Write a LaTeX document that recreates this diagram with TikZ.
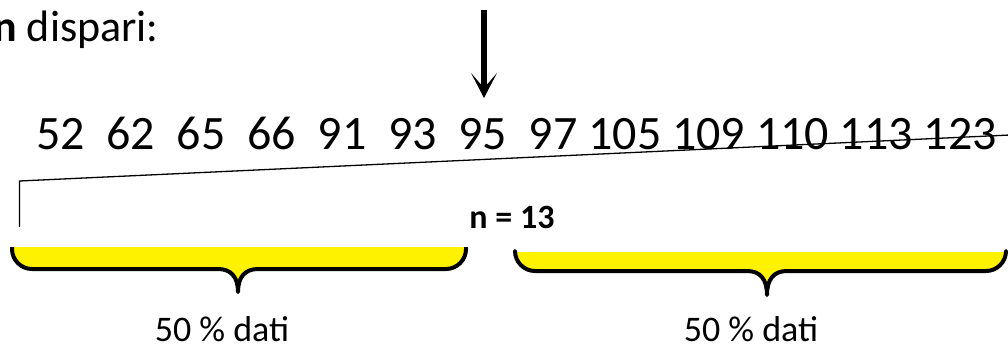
\documentclass[tikz,border=0pt]{standalone}
\usepackage{fontspec}
\setmainfont{Carlito}
\usetikzlibrary{arrows.meta}
\tikzset{
  numfont/.style={font=\fontsize{48}{56}\selectfont, inner sep=0pt},
  headfont/.style={font=\fontsize{44}{52}\selectfont, inner sep=0pt},
  nfont/.style={font=\fontsize{34}{40}\selectfont\bfseries, inner sep=0pt},
  pctfont/.style={font=\fontsize{36}{42}\selectfont, inner sep=0pt},
  bracefill/.style={fill=yellow, draw=none},
  braceline/.style={draw=black, line width=4pt, line join=round},
  thinline/.style={draw=black, line width=1.3pt},
  bigarrow/.style={draw=black, line width=5.5pt, -{Stealth[length=25pt,width=26pt,inset=15pt]}}
}
% #1 = x left, #2 = x right, #3 = top, #4 = line y, #5 = x middle, #6 = tip y
\newcommand\ybrace[6]{%
  \path[bracefill] (#1,#3) -- (#1,#4-20) .. controls (#1,#4-9) and (#1+9,#4) .. (#1+20,#4)
    -- (#5-20,#4) .. controls (#5-7,#4) and (#5,#4+8) .. (#5,#6)
    .. controls (#5,#4+8) and (#5+7,#4) .. (#5+20,#4)
    -- (#2-20,#4) .. controls (#2-9,#4) and (#2,#4-9) .. (#2,#4-20) -- (#2,#3) -- cycle;
  \path[braceline] (#1,#3) -- (#1,#4-20) .. controls (#1,#4-9) and (#1+9,#4) .. (#1+20,#4)
    -- (#5-20,#4) .. controls (#5-7,#4) and (#5,#4+8) .. (#5,#6)
    .. controls (#5,#4+8) and (#5+7,#4) .. (#5+20,#4)
    -- (#2-20,#4) .. controls (#2-9,#4) and (#2,#4-9) .. (#2,#4-20) -- (#2,#3);
}
\begin{document}
\begin{tikzpicture}[x=1pt,y=-1pt]
\useasboundingbox (0,0) rectangle (1008,347);
% title
\node[headfont, anchor=base east] (title) at (159,42) {\textbf{n} dispari:};
% arrow
\coordinate (atop) at (484,10);
\coordinate (atip) at (484,98);
\draw[bigarrow] (atop) -- (atip);
% numbers
\node[numfont, anchor=base west] (nums) at (36,150)
  {52\ \ 62\ \ 65\ \ 66\ \ 91\ \ 93\ \ 95\ \ 97 105 109 110 113 123};
% thin bracket line
\coordinate (l1) at (19.5,227);
\coordinate (l2) at (19.5,181);
\coordinate (l3) at (1010,135);
\draw[thinline] (l1) -- (l2) -- (l3);
% n = 13
\node[nfont, anchor=base] (n) at (512,229) {n = 13};
% braces
\ybrace{12}{466}{247}{269}{238}{292}
\ybrace{515}{1006}{252}{271}{767}{295}
% labels
\node[pctfont, anchor=base] (p1) at (222,341) {50 \% dati};
\node[pctfont, anchor=base] (p2) at (751,341) {50 \% dati};
\end{tikzpicture}
\end{document}
